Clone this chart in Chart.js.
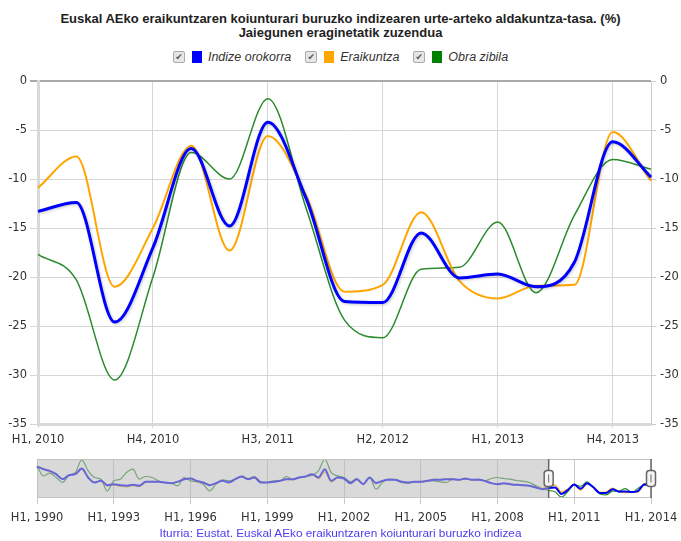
<!DOCTYPE html>
<html>
<head>
<meta charset="utf-8">
<script src="https://cdn.jsdelivr.net/npm/chart.js@4.4.0/dist/chart.umd.min.js"></script>
<style>
    body { margin: 0; background: #fff; width: 681px; height: 541px; position: relative; overflow: hidden; }
    .title { position: absolute; left: 0; width: 681px; text-align: center; font: bold 13px "Liberation Sans", Arial, sans-serif; color: #222; }
    .legend { position: absolute; top: 50px; left: 0; width: 681px; display: flex; justify-content: center; align-items: center; font: italic 12.5px "Liberation Sans", Arial, sans-serif; color: #333; }
    .legend .item { display: flex; align-items: center; margin: 0 7px; }
    .legend .box { width: 10px; height: 10px; border: 1px solid #aaa; border-radius: 2px; background: #e6e6e6; font: 9px "DejaVu Sans", sans-serif; color: #555; line-height: 10px; text-align: center; font-style: normal; margin-right: 7px; }
    .legend .swatch { width: 10px; height: 12px; margin-right: 6px; }
    canvas { position: absolute; left: 0; }
    .source { position: absolute; top: 526px; left: 0; width: 681px; text-align: center; font: 11.8px "Liberation Sans", Arial, sans-serif; color: #4b3cf0; }
</style>
</head>
<body>
<div class="title" style="top: 11px;">Euskal AEko eraikuntzaren koiunturari buruzko indizearen urte-arteko aldakuntza-tasa. (%)</div>
<div class="title" style="top: 25px;">Jaiegunen eraginetatik zuzendua</div>
<div class="legend">
    <div class="item"><span class="box">✔</span><span class="swatch" style="background:#0000ff"></span>Indize orokorra</div>
    <div class="item"><span class="box">✔</span><span class="swatch" style="background:#ffa500"></span>Eraikuntza</div>
    <div class="item"><span class="box">✔</span><span class="swatch" style="background:#008000"></span>Obra zibila</div>
</div>
<canvas id="mainChart" width="681" height="450" style="top:0"></canvas>
<canvas id="navChart" width="681" height="80" style="top:450px"></canvas>
<div class="source">Iturria: Eustat. Euskal AEko eraikuntzaren koiunturari buruzko indizea</div>

<script>
// Quarterly data, H1 2010 - H1 2014 (main view)
const categories = ['H1, 2010', 'H2, 2010', 'H3, 2010', 'H4, 2010', 'H1, 2011', 'H2, 2011', 'H3, 2011', 'H4, 2011',
    'H1, 2012', 'H2, 2012', 'H3, 2012', 'H4, 2012', 'H1, 2013', 'H2, 2013', 'H3, 2013', 'H4, 2013', 'H1, 2014'];
const indizeOrokorra = [-13.3, -12.4, -24.6, -17.0, -6.9, -14.8, -4.2, -12.0, -22.5, -22.6, -15.5, -20.1, -19.7, -21.0, -18.5, -6.2, -9.8];
const eraikuntza = [-10.9, -7.7, -21.0, -15.0, -6.6, -17.3, -5.6, -11.7, -21.5, -20.8, -13.4, -20.4, -22.2, -20.9, -20.8, -5.2, -10.2];
const obraZibila = [-17.7, -20.3, -30.5, -20.0, -7.3, -10.0, -1.8, -13.0, -24.4, -26.2, -19.2, -19.0, -14.4, -21.6, -13.7, -8.0, -9.0];
const yTicks = [0, -5, -10, -15, -20, -25, -30, -35];

// Earlier history shown in the navigator, H1 1990 - H4 2009
const navIndize = [26.9, 21.9, 18.8, 12.6, 3.2, 10.7, 12.6, 23.2, 6.4, -3.0, 0.1, -8.0, -6.1, -8.0, -9.2, -7.4,
    -9.2, -1.7, -1.7, -1.7, -3.0, -4.2, -1.7, 3.2, 4.5, 0.1, -3.0, -8.0, -4.2, 0.1, -3.0, 3.2,
    8.2, 3.2, 6.4, -3.0, -3.0, -1.7, 0.1, 3.2, 3.2, 6.4, 8.2, 12.6, 6.4, 21.9, 0.1, 6.4,
    4.5, -4.2, 3.2, -6.1, 6.4, -4.2, 0.1, 2.0, 2.0, -1.7, -3.0, -1.7, -1.7, 0.1, 2.0, 2.0,
    3.2, 3.2, 2.0, 4.5, 2.0, 2.0, 0.1, -4.2, -6.1, -4.2, -6.1, -7.4, -8.0, -9.2, -12.3, -15.5];
const navEraikuntza = [26.0, 22.5, 17.5, 12.0, 3.5, 11.0, 12.0, 22.0, 6.0, -2.5, 0.5, -9.0, -7.5, -10.0, -11.0, -9.0,
    -10.5, -2.5, -1.0, -2.0, -3.5, -4.0, -1.0, 3.5, 5.0, -1.0, -3.5, -7.0, -5.0, 0.5, -3.5, 3.0,
    8.5, 3.0, 6.0, -3.0, -3.5, -2.0, 0.5, 3.0, 3.5, 6.0, 8.0, 12.0, 4.0, 17.0, -2.0, 6.0,
    4.0, -4.5, 3.0, -6.5, 6.0, -3.5, 0.5, 2.5, 2.5, -1.0, -3.0, -1.5, -1.0, 0.5, 3.0, 2.5,
    4.0, 3.0, 1.5, 4.0, 1.5, 2.5, 0.0, -4.0, -6.5, -5.0, -6.5, -8.0, -8.5, -9.5, -11.5, -14.0];
const navObraZibila = [28.2, 9.5, 14.5, 6.4, -3.0, 10.7, 15.7, 39.4, 18.8, 6.4, 3.2, -18.6, 0.1, 3.2, 15.7, 21.9,
    3.2, 8.2, 6.4, 0.1, -3.0, -4.2, -9.2, 6.4, 0.1, -1.7, -6.1, -18.6, -6.1, 2.0, 0.1, 3.2,
    8.2, 4.5, 8.2, -1.7, -3.0, 0.1, 0.1, 8.2, 2.0, 6.4, 8.2, 10.7, 18.8, 40.6, 15.7, 9.5,
    6.4, -1.7, 4.5, -6.1, 6.4, -15.5, -3.0, 3.2, 2.0, -3.0, -4.2, -1.7, -1.7, 0.1, 0.1, -1.7,
    -3.0, 3.2, 2.0, 3.2, 2.0, 3.2, 0.1, 4.5, 6.4, 4.5, 3.2, 0.7, -0.5, -3.0, -9.2, -14.2];

const navLabels = [];
for (let y = 1990; y <= 2013; y++) {
    for (let q = 1; q <= 4; q++) navLabels.push('H' + q + ', ' + y);
}
navLabels.push('H1, 2014');
const navStart = navLabels.indexOf('H1, 2010');

const axisFont = { family: '"DejaVu Sans", Verdana, sans-serif', size: 11.5 };
const labelColor = '#333';

// soft shadow under the main blue line
const shadowPlugin = {
    id: 'lineShadow',
    beforeDatasetDraw(chart, args) {
        if (args.index !== 0) return;
        const ctx = chart.ctx;
        ctx.save();
        ctx.shadowColor = 'rgba(0,0,0,0.22)';
        ctx.shadowBlur = 3;
        ctx.shadowOffsetX = 1;
        ctx.shadowOffsetY = 1;
    },
    afterDatasetDraw(chart, args) {
        if (args.index === 0) chart.ctx.restore();
    }
};

new Chart(document.getElementById('mainChart'), {
    type: 'line',
    data: {
        labels: categories,
        datasets: [
            { label: 'Indize orokorra', data: indizeOrokorra, borderColor: '#0000ff', borderWidth: 3 },
            { label: 'Eraikuntza', data: eraikuntza, borderColor: '#ffa500', borderWidth: 2 },
            { label: 'Obra zibila', data: obraZibila, borderColor: '#2b8a2b', borderWidth: 1.5 }
        ]
    },
    options: {
        responsive: false,
        animation: false,
        layout: { padding: { top: 81, left: 0, right: 0, bottom: 0 } },
        elements: {
            point: { radius: 0 },
            line: { cubicInterpolationMode: 'monotone', fill: false }
        },
        plugins: { legend: { display: false }, tooltip: { enabled: false } },
        scales: {
            x: {
                grid: {
                    color: (c) => (c.index % 3 === 0 ? '#d6d6d6' : 'transparent'),
                    tickLength: 4
                },
                border: { color: '#d9d9d9', width: 3 },
                ticks: {
                    autoSkip: false, maxRotation: 0, padding: 5, color: labelColor, font: axisFont,
                    callback: (v, i) => (i % 3 === 0 ? categories[i] : '')
                },
                afterFit: (s) => { s.height = 26; s.paddingLeft = 0; s.paddingRight = 0; }
            },
            y: {
                position: 'left', min: -35, max: 0,
                afterBuildTicks: (s) => { s.ticks = yTicks.map(v => ({ value: v })); },
                grid: {
                    color: (c) => (c.tick && c.tick.value === 0 ? '#aaaaaa' : '#d6d6d6'),
                    lineWidth: (c) => (c.tick && c.tick.value === 0 ? 2 : 1),
                    tickLength: 8
                },
                border: { color: '#d9d9d9', width: 3 },
                ticks: { padding: 3, color: labelColor, font: axisFont },
                afterFit: (s) => { s.width = 38; }
            },
            y2: {
                position: 'right', min: -35, max: 0,
                afterBuildTicks: (s) => { s.ticks = yTicks.map(v => ({ value: v })); },
                grid: { drawOnChartArea: false, color: '#cccccc', tickLength: 5 },
                border: { color: '#cccccc', width: 1 },
                ticks: { padding: 4, color: labelColor, font: axisFont },
                afterFit: (s) => { s.width = 30; }
            }
        }
    },
    plugins: [shadowPlugin]
});

// navigator mask, outline and handles
const navigatorPlugin = {
    id: 'navigatorMask',
    afterDatasetsDraw(chart) {
        const { ctx, chartArea: a, scales } = chart;
        const x0 = scales.x.getPixelForValue(navStart);
        const x1 = scales.x.getPixelForValue(navLabels.length - 1);
        ctx.save();
        ctx.fillStyle = 'rgba(185,185,185,0.55)';
        ctx.fillRect(a.left, a.top, x0 - a.left, a.bottom - a.top);
        ctx.strokeStyle = '#c4c4c4';
        ctx.lineWidth = 1;
        ctx.beginPath();
        ctx.moveTo(a.left, a.top + 0.5); ctx.lineTo(a.right, a.top + 0.5);
        ctx.moveTo(a.left, a.bottom - 0.5); ctx.lineTo(a.right, a.bottom - 0.5);
        ctx.stroke();
        const midY = (a.top + a.bottom) / 2;
        [x0, x1].forEach(x => {
            ctx.strokeStyle = '#666';
            ctx.lineWidth = 1.5;
            ctx.beginPath();
            ctx.moveTo(x, a.top); ctx.lineTo(x, a.bottom);
            ctx.stroke();
            ctx.fillStyle = '#f4f4f4';
            ctx.beginPath();
            ctx.roundRect(x - 4.5, midY - 8, 9, 16, 3);
            ctx.fill();
            ctx.stroke();
            ctx.lineWidth = 1;
            ctx.beginPath();
            ctx.moveTo(x, midY - 4); ctx.lineTo(x, midY + 4);
            ctx.stroke();
        });
        ctx.restore();
    }
};

new Chart(document.getElementById('navChart'), {
    type: 'line',
    data: {
        labels: navLabels,
        datasets: [
            { data: navIndize.concat(indizeOrokorra), borderColor: '#0000ff', borderWidth: 2 },
            { data: navEraikuntza.concat(eraikuntza), borderColor: '#ffa500', borderWidth: 1.2 },
            { data: navObraZibila.concat(obraZibila), borderColor: '#2b8a2b', borderWidth: 1.2 }
        ]
    },
    options: {
        responsive: false,
        animation: false,
        layout: { padding: { top: 9, left: 37, right: 30, bottom: 0 } },
        elements: {
            point: { radius: 0 },
            line: { cubicInterpolationMode: 'monotone', fill: false }
        },
        plugins: { legend: { display: false }, tooltip: { enabled: false } },
        scales: {
            x: {
                grid: {
                    color: (c) => (c.index % 12 === 0 ? '#c8c8c8' : 'transparent'),
                    tickLength: 6
                },
                border: { display: false },
                ticks: {
                    autoSkip: false, maxRotation: 0, padding: 7, color: labelColor, font: axisFont,
                    callback: (v, i) => (i % 12 === 0 ? navLabels[i] : '')
                },
                afterFit: (s) => { s.height = 32; s.paddingLeft = 0; s.paddingRight = 0; }
            },
            y: { display: false, min: -32, max: 41 }
        }
    },
    plugins: [navigatorPlugin]
});
</script>
</body>
</html>
